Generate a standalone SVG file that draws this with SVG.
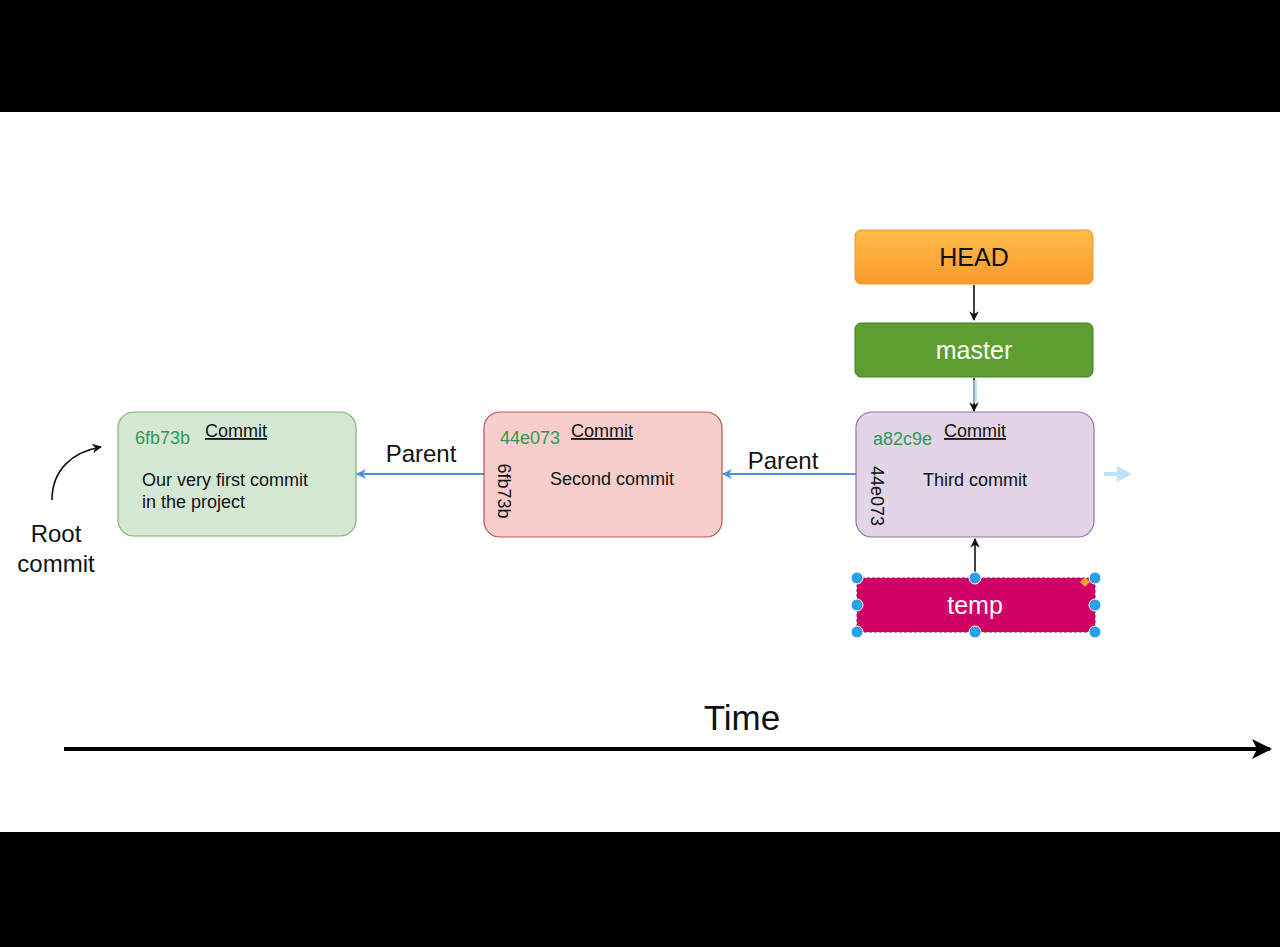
<svg xmlns="http://www.w3.org/2000/svg" width="1280" height="947" viewBox="0 0 1280 947">
<defs>
<style>
text{font-family:"Liberation Sans",Arial,sans-serif;}
.hdr{font-size:18px;fill:#111;text-decoration:underline;}
.hash{font-size:18px;fill:#2e9a55;}
.body{font-size:18px;fill:#111;}
.lbl{font-size:24px;fill:#111;}
.node{font-size:25px;fill:#111;}
.blue{stroke:#4a90e2;stroke-width:2;fill:none;}
.blk{stroke:#111;stroke-width:1.6;fill:none;}
.handle{fill:#29a0ea;stroke:#fff;stroke-width:1;}
</style>
<linearGradient id="gHead" x1="0" y1="0" x2="0" y2="1">
<stop offset="0" stop-color="#ffbb4a"/>
<stop offset="1" stop-color="#fb9a2a"/>
</linearGradient>
<marker id="mBlue" viewBox="0 0 10 10" refX="9" refY="5" markerWidth="5" markerHeight="5" orient="auto">
<path d="M0,0 L10,5 L0,10 L3,5 Z" fill="#4a90e2"/>
</marker>
<marker id="mBlk" viewBox="0 0 10 10" refX="9" refY="5" markerWidth="6" markerHeight="6" orient="auto">
<path d="M0,0 L10,5 L0,10 L3,5 Z" fill="#111"/>
</marker>
<marker id="mTime" viewBox="0 0 10 10" refX="9" refY="5" markerWidth="5" markerHeight="5" orient="auto" markerUnits="strokeWidth">
<path d="M0,0 L10,5 L0,10 L2.5,5 Z" fill="#000"/>
</marker>
</defs>
<rect x="0" y="0" width="1280" height="947" fill="#fff"/>
<rect x="0" y="0" width="1280" height="112" fill="#000"/>
<rect x="0" y="832" width="1280" height="115" fill="#000"/>

<g id="connectors">
<line x1="856" y1="474" x2="723" y2="474" class="blue" marker-end="url(#mBlue)"/>
<line x1="484" y1="474" x2="357" y2="474" class="blue" marker-end="url(#mBlue)"/>
<line x1="974" y1="285" x2="974" y2="320" class="blk" marker-end="url(#mBlk)"/>
<line x1="974" y1="378" x2="974" y2="411" class="blk" marker-end="url(#mBlk)"/>
<line x1="975" y1="577" x2="975" y2="539" class="blk" marker-end="url(#mBlk)"/>
<path d="M52,500 C52,470 72,452 101,447" class="blk" marker-end="url(#mBlk)"/>
<line x1="64" y1="749" x2="1270" y2="749" stroke="#000" stroke-width="4" marker-end="url(#mTime)"/>
<path d="M1104,474 H1120" stroke="#bfe3f5" stroke-width="4" fill="none"/>
<path d="M1117,466 L1132,474 L1117,482 Z" fill="#bfe3f5"/>
<path d="M975,380 V403" stroke="#a9d8ee" stroke-width="4" fill="none" opacity="0.7"/>
</g>

<g id="parent-label-1"><text x="421" y="462" class="lbl" text-anchor="middle">Parent</text></g>
<g id="parent-label-2"><text x="783" y="469" class="lbl" text-anchor="middle">Parent</text></g>

<g id="commit1">
<rect x="118" y="412" width="238" height="124" rx="16" fill="#d5e8d4" stroke="#82b366" stroke-width="1.2"/>
<text x="236" y="437" class="hdr" text-anchor="middle">Commit</text>
<text x="135" y="444" class="hash">6fb73b</text>
<text x="142" y="486" class="body">Our very first commit</text>
<text x="142" y="508" class="body">in the project</text>
</g>

<g id="commit2">
<rect x="484" y="412" width="238" height="125" rx="16" fill="#f8cecc" stroke="#b85450" stroke-width="1.2"/>
<text x="602" y="437" class="hdr" text-anchor="middle">Commit</text>
<text x="500" y="444" class="hash">44e073</text>
<text x="612" y="485" class="body" text-anchor="middle">Second commit</text>
<text transform="translate(498,491) rotate(90)" class="body" text-anchor="middle">6fb73b</text>
</g>

<g id="commit3">
<rect x="856" y="412" width="238" height="125" rx="16" fill="#e1d5e7" stroke="#9673a6" stroke-width="1.2"/>
<text x="975" y="437" class="hdr" text-anchor="middle">Commit</text>
<text x="873" y="445" class="hash">a82c9e</text>
<text x="975" y="486" class="body" text-anchor="middle">Third commit</text>
<text transform="translate(871,496) rotate(90)" class="body" text-anchor="middle">44e073</text>
</g>

<g id="head">
<rect x="855" y="230" width="238" height="54" rx="6" fill="url(#gHead)" stroke="#e39a2c" stroke-width="1"/>
<text x="974" y="266" class="node" text-anchor="middle">HEAD</text>
</g>

<g id="master">
<rect x="855" y="323" width="238" height="54" rx="6" fill="#5c9e30" stroke="#3f7a1d" stroke-width="1"/>
<text x="974" y="359" class="node" text-anchor="middle" style="fill:#fff">master</text>
</g>

<g id="temp">
<rect x="857" y="578" width="238" height="54" fill="#d30068" stroke="#8a2050" stroke-width="1" stroke-dasharray="3 2"/>
<text x="975" y="614" class="node" text-anchor="middle" style="fill:#fff">temp</text>
<circle cx="857" cy="578" r="6" class="handle"/>
<circle cx="975" cy="578" r="6" class="handle"/>
<circle cx="1095" cy="578" r="6" class="handle"/>
<circle cx="857" cy="605" r="6" class="handle"/>
<circle cx="1095" cy="605" r="6" class="handle"/>
<circle cx="857" cy="632" r="6" class="handle"/>
<circle cx="975" cy="632" r="6" class="handle"/>
<circle cx="1095" cy="632" r="6" class="handle"/>
<path d="M1085,577 L1090,582 L1085,587 L1080,582 Z" fill="#f5a030"/>
</g>

<g id="root-label">
<text x="56" y="542" class="lbl" text-anchor="middle">Root</text>
<text x="56" y="572" class="lbl" text-anchor="middle">commit</text>
</g>

<g id="time-label"><text x="742" y="730" font-size="35" fill="#111" text-anchor="middle">Time</text></g>
</svg>
